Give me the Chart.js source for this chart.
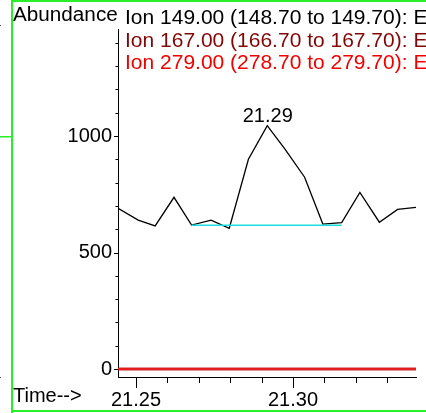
<!DOCTYPE html>
<html><head><meta charset="utf-8">
<script src="https://cdn.jsdelivr.net/npm/chart.js@4/dist/chart.umd.min.js"></script>
<style>
html,body{margin:0;padding:0;background:#fff;overflow:hidden}
#wrap{position:relative;width:426px;height:413px}
canvas{display:block}
</style></head><body>
<div id="wrap"><canvas id="c" width="426" height="413"></canvas></div>
<script>
// ---- data ----
const times = [21.2443, 21.2507, 21.2561, 21.2621, 21.2677, 21.2739, 21.2797, 21.2858, 21.2918, 21.2975, 21.3037, 21.3095, 21.3155, 21.3213, 21.3275, 21.3333, 21.3392];
const ion149 = [690, 639, 614, 737, 618, 639, 604, 900, 1044, 943, 823, 622, 628, 758, 630, 685, 694];
const ion167 = [0, 0, 0, 0, 0, 0, 0, 0, 0, 0, 0, 0, 0, 0, 0, 0, 0];
const ion279 = [0, 0, 0, 0, 0, 0, 0, 0, 0, 0, 0, 0, 0, 0, 0, 0, 0];
const baselineTimes = [21.2677, 21.3155];
const baselineValues = [617, 617];
const peakIndex = 8;
const peakLabel = "21.29";
const seriesNames = [
  "Ion 149.00 (148.70 to 149.70): E",
  "Ion 167.00 (166.70 to 167.70): E",
  "Ion 279.00 (278.70 to 279.70): E"
];
const seriesColors = ["#000000", "#820808", "#f20000"];
const xMajorTicks = [21.25, 21.30];
const xMinorTicks = [21.25, 21.26, 21.27, 21.28, 21.29, 21.30, 21.31, 21.32, 21.33];
const yMajorTicks = [0, 500, 1000];
const yMinorTicks = [0, 100, 200, 300, 400, 500, 600, 700, 800, 900, 1000, 1100, 1200, 1300, 1400];
const xLabelTitle = "Time-->";
const yLabelTitle = "Abundance";

const FONT = '"Liberation Sans", Arial, Helvetica, sans-serif';
const near = (a, b) => Math.abs(a - b) < 1e-6;

function wideText(ctx, s, x, y, k) {
  ctx.save();
  ctx.translate(x, y);
  ctx.scale(k, 1);
  ctx.fillText(s, 0, 0);
  ctx.restore();
}

const decor = {
  id: 'decor',
  afterDraw(chart) {
    const ctx = chart.ctx;
    const xs = chart.scales.x, ys = chart.scales.y;
    const ca = chart.chartArea;
    ctx.save();
    // tick marks
    ctx.strokeStyle = '#000';
    ctx.lineWidth = 1;
    ctx.beginPath();
    yMinorTicks.forEach(v => {
      const y = Math.round(ys.getPixelForValue(v)) + 0.5;
      const len = yMajorTicks.some(m => near(m, v)) ? 4 : 2.5;
      ctx.moveTo(ca.left - len, y); ctx.lineTo(ca.left, y);
    });
    xMinorTicks.forEach(v => {
      const x = Math.round(xs.getPixelForValue(v)) + 0.5;
      const len = xMajorTicks.some(m => near(m, v)) ? 11 : 6;
      ctx.moveTo(x, ca.bottom); ctx.lineTo(x, ca.bottom + len);
    });
    ctx.stroke();
    // header texts
    ctx.font = '20px ' + FONT;
    ctx.textBaseline = 'alphabetic';
    ctx.textAlign = 'left';
    ctx.fillStyle = '#000';
    wideText(ctx, yLabelTitle, 13, 21, 1.035);
    const base = [23.5, 47, 69];
    seriesNames.forEach((s, i) => {
      ctx.fillStyle = seriesColors[i];
      wideText(ctx, s, 125, base[i], 1.05);
    });
    ctx.fillStyle = '#000';
    ctx.fillText(xLabelTitle, 13, 402);
    // peak label
    const pt = chart.getDatasetMeta(0).data[peakIndex];
    ctx.textAlign = 'center';
    ctx.fillText(peakLabel, pt.x + 0.5, pt.y - 3.5);
    // green frame
    ctx.fillStyle = 'rgb(40,240,40)';
    ctx.fillRect(11, 0, 2, 413);
    ctx.fillRect(11, 0, 415, 2);
    ctx.fillRect(11, 410, 415, 2);
    ctx.fillRect(0, 136, 11, 1.5);
    ctx.fillStyle = '#555';
    ctx.fillRect(0, 25, 1, 1);
    ctx.fillRect(0, 377, 1, 1);
    ctx.restore();
  }
};

const toPts = (xs, ys) => xs.map((x, i) => ({x, y: ys[i]}));

new Chart(document.getElementById('c'), {
  type: 'line',
  data: {
    datasets: [
      {data: toPts(times, ion149), borderColor: seriesColors[0], borderWidth: 1.3, pointRadius: 0, tension: 0, order: 1},
      {data: toPts(baselineTimes, baselineValues), borderColor: '#1adede', borderWidth: 1.5, pointRadius: 0, tension: 0, order: 0},
      {data: toPts(times, ion167), borderColor: seriesColors[1], borderWidth: 2.5, pointRadius: 0, tension: 0, order: 3},
      {data: toPts(times, ion279), borderColor: '#e31c1c', borderWidth: 2.5, pointRadius: 0, tension: 0, order: 2}
    ]
  },
  options: {
    responsive: false,
    animation: false,
    devicePixelRatio: 1,
    layout: {padding: {left: 0, right: 10, top: 29, bottom: 0}},
    plugins: {legend: {display: false}, tooltip: {enabled: false}},
    scales: {
      x: {
        type: 'linear', min: 21.24427, max: 21.33917,
        grid: {display: false, drawTicks: false},
        border: {display: true, color: '#000', width: 1},
        afterBuildTicks: s => { s.ticks = xMinorTicks.map(v => ({value: v})); },
        afterFit: s => { s.height = 36; },
        ticks: {
          autoSkip: false, maxRotation: 0, padding: 11, color: '#000',
          font: {size: 20, family: FONT},
          callback: v => xMajorTicks.some(m => near(m, v)) ? v.toFixed(2) : ''
        }
      },
      y: {
        type: 'linear', min: -34, max: 1459,
        grid: {display: false, drawTicks: false},
        border: {display: true, color: '#000', width: 1},
        afterBuildTicks: s => { s.ticks = yMinorTicks.map(v => ({value: v})); },
        afterFit: s => { s.width = 118; },
        ticks: {
          autoSkip: false, padding: 6, color: '#000',
          font: {size: 20, family: FONT},
          callback: v => yMajorTicks.includes(v) ? String(v) : ''
        }
      }
    }
  },
  plugins: [decor]
});
</script>
</body></html>
